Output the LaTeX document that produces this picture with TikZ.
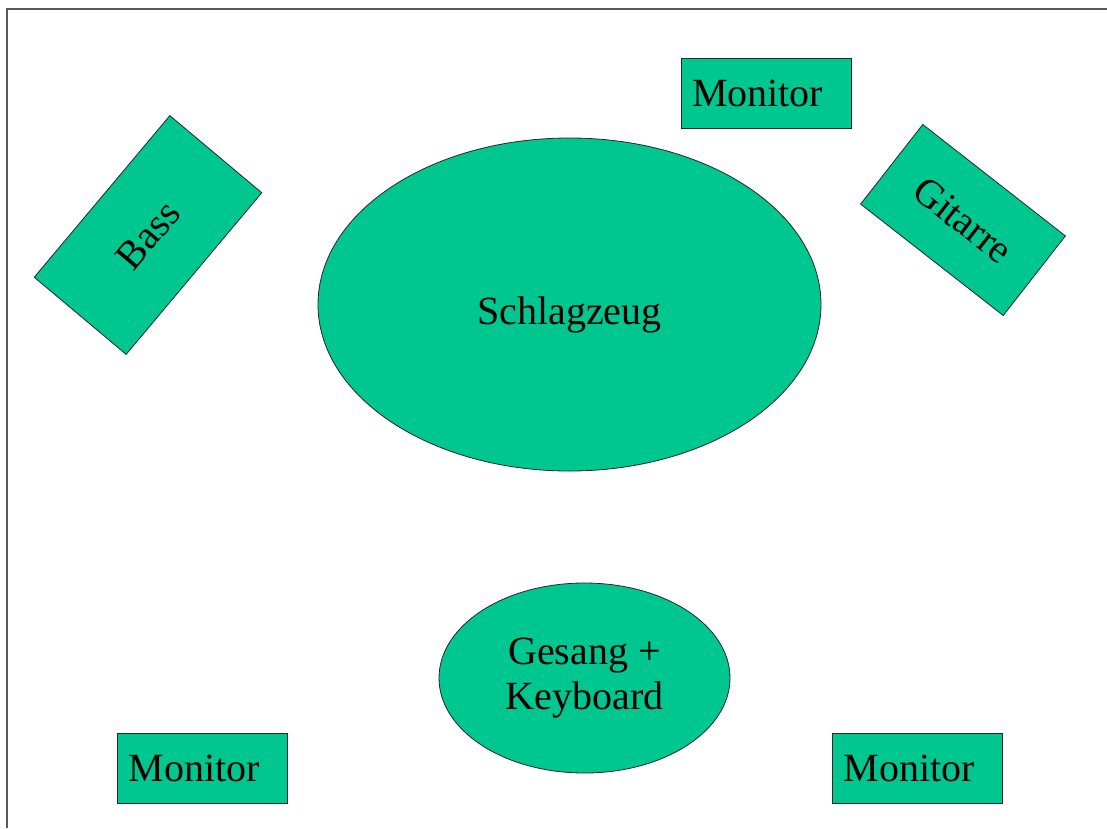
\documentclass[tikz,border=0pt]{standalone}
\usepackage{fontspec}
\setmainfont{Liberation Serif}
\usepackage{tikz}
\usetikzlibrary{shapes,backgrounds,calc}

\definecolor{stagegreen}{RGB}{0,199,143}

\begin{document}
\begin{tikzpicture}[x=1pt,y=-1pt]
        % Define the styles for the stage pieces
        \tikzstyle{piece}=[fill=stagegreen, draw=black!85, line width=0.8pt, font=\fontsize{40}{45}\selectfont];
        \tikzstyle{monitorbox}=[piece, rectangle, minimum height=70, text width=148, inner sep=11, align=left];
        \tikzstyle{drums}=[piece, ellipse, inner sep=0pt];

        % Fix the page size
        \useasboundingbox (0,0) rectangle (1107,828);

        % Frame of the stage
        \draw[gray!70!black, line width=1.8pt] (7,828) -- (7,9) -- (1107,9);

        % Define the coordinates for the pieces
        \coordinate (Mtop) at (766,93.5);
        \coordinate (Mleft) at (202.5,768);
        \coordinate (Mright) at (917.5,768);
        \coordinate (D) at (569.5,304.5);
        \coordinate (V) at (584.5,678);

        % Drums and singer
        \node[drums, minimum width=503, minimum height=333, text height=48pt, text depth=9pt] (schlagzeug) at (D) {Schlagzeug};
        \node[drums, minimum width=291, minimum height=190, align=center] (gesang) at (V) {Gesang +\\Keyboard};

        % Bass and guitar, turned towards the drums
        \node[piece, rectangle, minimum width=211, minimum height=120, inner sep=0pt, rotate=50] (bass) at (148,235) {Bass};
        \node[piece, rectangle, minimum width=181, minimum height=101, inner sep=0pt, rotate=-38] (gitarre) at (963,220) {Gitarre};

        % The three monitors
        \node[monitorbox] (montop) at (Mtop) {Monitor};
        \node[monitorbox] (monleft) at (Mleft) {Monitor};
        \node[monitorbox] (monright) at (Mright) {Monitor};
    \end{tikzpicture}
\end{document}
